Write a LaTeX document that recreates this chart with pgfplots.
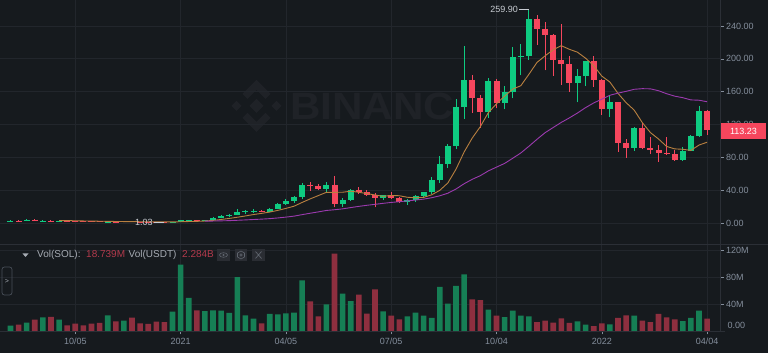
\documentclass[border=0pt]{standalone}
\usepackage{pgfplots}
\pgfplotsset{compat=1.18}
\usepackage{pgfplotstable}
\usepackage{fontspec}
\setmainfont{Liberation Sans}
\definecolor{bg}{HTML}{161A1E}
\definecolor{gridc}{HTML}{22262C}
\definecolor{axc}{HTML}{2B2F36}
\definecolor{btn}{HTML}{474D57}
\definecolor{txt}{HTML}{848E9C}
\definecolor{upc}{HTML}{0ECB81}
\definecolor{dnc}{HTML}{F6465D}
\definecolor{upv}{HTML}{167F55}
\definecolor{dnv}{HTML}{8E2F3F}
\definecolor{ma7}{HTML}{B98040}
\definecolor{ma25}{HTML}{9B3AAE}
\definecolor{wm}{HTML}{1F2227}
\definecolor{hdr}{HTML}{A6ABB3}
\definecolor{hdrred}{HTML}{B23A4C}
\definecolor{iconbg}{HTML}{2A2D33}
\definecolor{iconfg}{HTML}{5E646D}
\definecolor{lbl}{HTML}{C8CCD2}

% green (up) candles: week index, open, high, low, close, volume (M)
\pgfplotstableread{
i o h l c v
0 2.85 3.9 2.5 3.05 7.9
2 2.95 4.8 2.9 4.35 12.3
4 3.0 3.6 2.8 3.3 20
6 2.85 3.3 2.6 3.1 17
12 1.65 2.2 1.3 2.0 23
14 1.85 2.4 1.8 2.2 15.3
20 1.3 1.9 1.25 1.8 28.6
21 1.8 3.9 1.7 3.45 98.3
22 3.45 4.2 3.0 3.7 48.9
24 3.3 4.6 3.2 4.3 29.6
25 4.3 7.2 4.2 6.8 30.6
26 6.8 9.8 6.5 9.3 30.1
27 9.3 11.8 8.0 10.5 26.7
28 10.5 17.4 10.0 13.6 80
29 13.6 16.0 11.5 14.8 23.2
30 14.8 17.0 12.5 15.3 18.3
32 14.2 19.0 13.5 18.0 25.2
33 18.0 24.5 16.8 23.5 24.7
34 23.5 29.0 22.0 27.6 26.2
35 27.6 33.5 25.0 32.0 27.2
36 32.0 49.0 29.0 47.0 75
39 42.3 50.7 37.0 46.0 39.5
41 23.3 31.0 20.0 28.3 55.3
42 28.3 42.0 27.0 41.0 44.4
46 30.8 35.0 28.5 34.0 29
49 25.8 29.0 22.3 28.0 21.7
50 28.0 34.5 26.0 33.4 27.2
51 33.4 38.5 31.0 37.5 22.7
52 37.5 56.0 36.0 53.0 19.3
53 53.0 81.5 49.0 72.0 65.2
54 72.0 97.0 67.0 94.5 40.5
55 94.5 151.0 90.0 142.0 66.7
56 142.0 215.7 127.0 174.5 84
59 135.0 176.8 127.8 173.3 31.6
61 146.4 167.5 138.6 159.4 20.7
62 159.4 214.0 152.0 202.0 30.1
63 202.0 218.0 180.0 203.5 22.7
64 203.5 259.9 199.0 249.0 21.7
70 171.0 188.0 147.0 179.0 14.3
71 179.0 198.0 167.0 197.5 9.4
74 139.5 156.0 129.0 147.5 9.9
77 92.0 117.6 88.0 115.6 22.7
83 77.0 93.0 76.0 88.4 14.8
84 88.4 107.0 87.5 106.0 19.3
85 106.0 142.5 105.0 136.7 30.1
}\tblup

% red (down) candles
\pgfplotstableread{
i o h l c v
1 3.05 3.6 2.8 2.95 9.4
3 4.35 4.9 2.6 3.0 16.8
5 3.3 3.5 2.7 2.85 21
7 3.1 3.2 2.7 2.85 8.4
8 2.85 2.95 2.4 2.55 10.9
9 2.55 2.7 2.3 2.4 8.4
10 2.4 2.5 2.1 2.2 10.9
11 2.2 2.3 1.5 1.65 11.9
13 2.0 2.2 1.7 1.85 14.3
15 2.2 2.3 1.7 1.9 19.8
16 1.9 2.0 1.6 1.7 11.4
17 1.7 1.75 1.45 1.55 10.4
18 1.55 1.6 1.35 1.45 13.8
19 1.45 1.5 1.03 1.3 13.3
23 3.7 4.0 3.0 3.3 30.6
31 15.3 16.5 13.5 14.2 11.4
37 47.0 49.7 39.8 45.5 44
38 45.5 48.0 40.0 42.3 21.7
40 46.0 57.8 19.5 23.3 114.6
43 41.0 44.5 36.0 37.7 53.8
44 37.7 41.0 33.0 34.4 25.7
45 34.4 37.0 19.5 30.8 61.7
47 34.0 37.5 29.5 31.0 22.7
48 31.0 32.5 25.0 25.8 17.3
57 174.5 180.0 134.6 152.0 46.9
58 152.0 156.0 115.9 135.0 45.9
60 173.3 175.0 140.0 146.4 22.7
65 249.0 253.0 217.0 236.5 13.3
66 236.5 245.0 186.0 229.0 15.3
67 229.0 230.0 179.5 198.5 12.3
68 198.5 243.0 168.0 194.0 18.8
69 194.0 203.0 160.0 171.0 11.9
72 197.5 203.5 166.0 174.0 7.4
73 174.0 175.0 132.0 139.5 11.4
75 147.5 148.0 87.0 97.8 19.3
76 97.8 103.0 80.0 92.0 23.2
78 115.6 122.5 90.0 91.0 15.3
79 91.0 105.0 84.0 89.2 13.3
80 89.2 95.0 75.0 85.0 25.2
81 85.0 105.0 83.0 84.0 20.2
82 84.0 89.0 76.0 77.0 17.3
86 136.7 138.0 107.5 113.23 18.3
}\tbldn

% moving averages MA(7), MA(25)
\pgfplotstableread{
i m7 m25
6 3.23 nan
7 3.20 nan
8 3.14 nan
9 2.86 nan
10 2.75 nan
11 2.51 nan
12 2.39 nan
13 2.21 nan
14 2.12 nan
15 2.03 nan
16 1.93 nan
17 1.84 nan
18 1.81 nan
19 1.71 nan
20 1.70 nan
21 1.88 nan
22 2.14 nan
23 2.36 nan
24 2.76 2.59
25 3.52 2.74
26 4.66 2.99
27 5.91 3.24
28 7.36 3.66
29 8.94 4.12
30 10.66 4.62
31 12.07 5.07
32 13.67 5.67
33 15.70 6.51
34 18.14 7.52
35 20.77 8.71
36 25.37 10.52
37 29.69 12.26
38 33.70 13.88
39 37.70 15.63
40 37.67 16.49
41 37.77 17.55
42 39.06 19.13
43 37.73 20.58
44 36.14 21.91
45 34.50 23.07
46 32.79 24.29
47 33.89 25.38
48 33.53 26.28
49 31.67 27.23
50 31.06 28.29
51 31.50 29.42
52 34.67 31.12
53 40.10 33.46
54 49.17 36.64
55 65.77 41.71
56 86.70 48.12
57 103.64 53.48
58 117.57 57.94
59 134.76 63.77
60 145.39 68.35
61 154.66 72.84
62 163.23 79.10
63 167.37 85.55
64 181.23 93.67
65 195.73 102.20
66 203.69 110.23
67 211.13 116.53
68 216.07 122.78
69 211.64 128.24
70 208.14 134.17
71 200.79 140.71
72 191.86 146.43
73 179.07 150.98
74 171.79 155.76
75 158.04 158.34
76 146.76 160.52
77 137.70 163.02
78 122.49 163.78
79 110.37 163.57
80 102.59 161.29
81 93.51 157.67
82 90.54 154.67
83 90.03 152.80
84 88.66 150.11
85 95.19 149.72
86 98.62 147.88
}\tblma

\pgfplotsset{
  binax/.style={
    scale only axis, width=720pt,
    xmin=-1.2963, xmax=87.593,
    axis line style={draw=none},
    xtick={8,21,34,47,60,73,86},
    grid=major, major grid style={gridc, line width=0.8pt},
    tick align=outside, major tick length=3.5pt,
    tick style={txt, line width=0.6pt},
    ytick pos=right, yticklabel pos=right, xtick pos=bottom,
    yticklabel style={font=\fontsize{9}{10}\selectfont, text=txt, anchor=west, inner sep=0pt, xshift=2.5pt},
    xticklabel style={font=\fontsize{9}{10}\selectfont, text=txt},
    /pgf/number format/assume math mode=true,
  }
}

\begin{document}
\begin{tikzpicture}
\fill[bg] (0pt,0pt) rectangle (768pt,353pt);
\useasboundingbox (0pt,0pt) rectangle (768pt,353pt);

% watermark
\begin{scope}[shift={(256.5pt,247pt)}, x=1pt, y=1pt]
  \fill[wm] (0,-7) -- (7,0) -- (0,7) -- (-7,0) -- cycle;
  \fill[wm] (-20,-5) -- (-15,0) -- (-20,5) -- (-25,0) -- cycle;
  \fill[wm] (20,-5) -- (25,0) -- (20,5) -- (15,0) -- cycle;
  \fill[wm] (-14,12) -- (0,26) -- (14,12) -- (9,7) -- (0,16) -- (-9,7) -- cycle;
  \fill[wm] (-14,-12) -- (0,-26) -- (14,-12) -- (9,-7) -- (0,-16) -- (-9,-7) -- cycle;
\end{scope}
\begin{scope}
  \clip (0pt,0pt) rectangle (455pt,353pt);
  \node[anchor=base west, inner sep=0pt, text=wm, font=\fontsize{38}{38}\selectfont\bfseries] at (290pt,233pt) {\scalebox{1.11}[1]{BINANCE}};
\end{scope}

% price panel
\begin{axis}[binax, at={(0pt,109pt)}, anchor=south west, height=244pt,
  ymin=-25.18, ymax=271.65,
  ytick={0,40,80,120,160,200,240},
  xticklabels={}, xtick style={draw=none},
  yticklabel style={/pgf/number format/.cd, fixed, fixed zerofill, precision=2},
]
\addplot[upc, line width=1pt, quiver={u=0, v=\thisrow{h}-\thisrow{l}}] table[x=i, y=l] {\tblup};
\addplot[dnc, line width=1pt, quiver={u=0, v=\thisrow{h}-\thisrow{l}}] table[x=i, y=l] {\tbldn};
\addplot[upc, line width=6pt, quiver={u=0, v=\thisrow{c}-\thisrow{o}}] table[x=i, y=o] {\tblup};
\addplot[dnc, line width=6pt, quiver={u=0, v=\thisrow{c}-\thisrow{o}}] table[x=i, y=o] {\tbldn};
\addplot[ma7, line width=0.9pt] table[x=i, y=m7] {\tblma};
\addplot[ma25, line width=0.9pt] table[x=i, y=m25] {\tblma};
\draw[lbl, line width=0.6pt] (axis cs:62.8,259.9) -- (axis cs:64,259.9);
\node[anchor=east, text=lbl, font=\fontsize{9}{10}\selectfont, inner sep=1pt] at (axis cs:62.8,259.9) {259.90};
\draw[lbl, line width=0.6pt] (axis cs:17.7,1.03) -- (axis cs:19,1.03);
\node[anchor=east, text=lbl, font=\fontsize{9}{10}\selectfont, inner sep=1pt] at (axis cs:17.7,1.03) {1.03};
\end{axis}

% volume panel
\begin{axis}[binax, at={(0pt,22pt)}, anchor=south west, height=87pt,
  ymin=0, ymax=128.9,
  ytick={0,40,80,120}, yticklabels={,40M,80M,120M},
  xticklabels={10/05,2021,04/05,07/05,10/04,2022,04/04},
]
\addplot[ybar, bar width=5.6pt, bar shift=0pt, fill=upv, draw=none] table[x=i, y=v] {\tblup};
\addplot[ybar, bar width=5.6pt, bar shift=0pt, fill=dnv, draw=none] table[x=i, y=v] {\tbldn};
\end{axis}

% frame lines
\draw[axc, line width=0.8pt] (720pt,22pt) -- (720pt,353pt);
\draw[axc, line width=0.8pt] (0pt,109pt) -- (768pt,109pt);
\draw[axc, line width=0.8pt] (0pt,22pt) -- (725pt,22pt);
\node[anchor=west, inner sep=0pt, text=txt, font=\fontsize{9}{10}\selectfont] at (727.5pt,27.3pt) {0.00};

% last price tag
\node[fill=dnc, text=white, font=\fontsize{9}{10}\selectfont, minimum width=45pt, minimum height=16.6pt, inner sep=0pt] at (743.5pt,222pt) {113.23};

% volume header
\fill[hdr] (22.5pt,99.5pt) -- (28.5pt,99.5pt) -- (25.5pt,96pt) -- cycle;
\node[anchor=base west, inner sep=0pt, text=hdr, font=\fontsize{10}{12}\selectfont] at (37pt,95pt) {Vol(SOL):};
\node[anchor=base west, inner sep=0pt, text=hdrred, font=\fontsize{10}{12}\selectfont] at (86pt,95pt) {18.739M};
\node[anchor=base west, inner sep=0pt, text=hdr, font=\fontsize{10}{12}\selectfont] at (128.5pt,95pt) {Vol(USDT)};
\node[anchor=base west, inner sep=0pt, text=hdrred, font=\fontsize{10}{12}\selectfont] at (182pt,95pt) {2.284B};
\fill[iconbg] (217pt,92pt) rectangle (230pt,104pt);
\fill[iconbg] (235pt,92pt) rectangle (247pt,104pt);
\fill[iconbg] (252pt,92pt) rectangle (265pt,104pt);
\draw[iconfg, line width=0.6pt] (223.5pt,98pt) ellipse (4pt and 2.3pt);
\fill[iconfg] (223.5pt,98pt) circle (1.1pt);
\draw[iconfg, line width=0.6pt] (241pt,102pt) -- (244.5pt,100pt) -- (244.5pt,96pt) -- (241pt,94pt) -- (237.5pt,96pt) -- (237.5pt,100pt) -- cycle;
\draw[iconfg, line width=0.6pt] (241pt,98pt) circle (1.2pt);
\draw[iconfg, line width=0.7pt] (255.5pt,94.5pt) -- (261.5pt,101.5pt) (255.5pt,101.5pt) -- (261.5pt,94.5pt);

% side button
\draw[btn, line width=0.7pt, rounded corners=2.5pt] (2pt,58pt) rectangle (12pt,86pt);
\node[text=hdr, font=\fontsize{7}{8}\selectfont, inner sep=0pt] at (7pt,72pt) {>};
\end{tikzpicture}
\end{document}
